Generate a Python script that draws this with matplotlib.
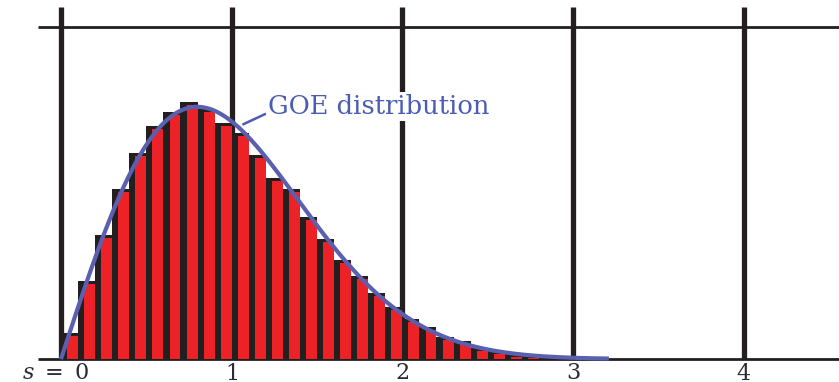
import numpy as np
import matplotlib
matplotlib.use("Agg")
import matplotlib.pyplot as plt

# level spacing histogram, bins of width 0.1 starting at s = 0
bin_left = np.round(np.arange(0, 3.0, 0.1), 2)
counts = [0.078, 0.235, 0.373, 0.512, 0.620, 0.702, 0.744, 0.774, 0.753, 0.711,
          0.681, 0.614, 0.545, 0.512, 0.428, 0.361, 0.298, 0.250, 0.199, 0.157,
          0.120, 0.098, 0.066, 0.054, 0.033, 0.024, 0.015, 0.012, 0.006, 0.003]
bin_w = 0.1

tick_pos = [0, 1, 2, 3, 4]
tick_txt = [r"$s\ =\ 0$", "$1$", "$2$", "$3$", "$4$"]

BLACK = "#231f20"
RED = "#ec2227"
CURVE = "#5a5fb0"
LABEL = "#4a5cb3"

plt.rcParams["mathtext.fontset"] = "dejavuserif"

fig = plt.figure(figsize=(8.39, 3.82), dpi=100)
ax = fig.add_axes([0, 0, 1, 1])
ax.set_xlim(-0.357, 4.558)
ax.set_ylim(-0.069, 1.082)
ax.axis("off")

# grid: heavy verticals, thin horizontals at 0 and 1
for x in tick_pos:
    ax.plot([x, x], [0, 1.062], color=BLACK, lw=3.8, solid_capstyle="butt", zorder=1)
for y in [0, 1]:
    ax.plot([-0.136, 4.6], [y, y], color=BLACK, lw=2.0, solid_capstyle="butt", zorder=1)

# bars: black block with red fill set in from the left and top
counts = np.array(counts)
ax.bar(bin_left, counts, width=bin_w, align="edge", color=BLACK, lw=0, zorder=2)
ax.bar(bin_left + 0.036, np.clip(counts - 0.009, 0, None), width=bin_w - 0.036,
       align="edge", color=RED, lw=0, zorder=3)

# Wigner surmise for the GOE
s = np.linspace(0, 3.21, 400)
p = np.pi / 2 * s * np.exp(-np.pi * s ** 2 / 4)
ax.plot(s, p, color=CURVE, lw=3.0, zorder=4, solid_capstyle="butt")

ax.plot([1.07, 1.195], [0.708, 0.738], color=LABEL, lw=1.8, zorder=4)
ax.text(1.215, 0.762, "GOE distribution", color=LABEL, fontsize=18.5,
        family="DejaVu Serif", va="center", ha="left", zorder=5,
        bbox=dict(facecolor="white", edgecolor="none", pad=1.5))

for x, t in zip(tick_pos, tick_txt):
    xx = x - 0.03 if x == 0 else x
    ax.text(xx, -0.042, t, color="#2a2a38", fontsize=16, ha="center", va="center")

fig.savefig("out.png", dpi=100)
